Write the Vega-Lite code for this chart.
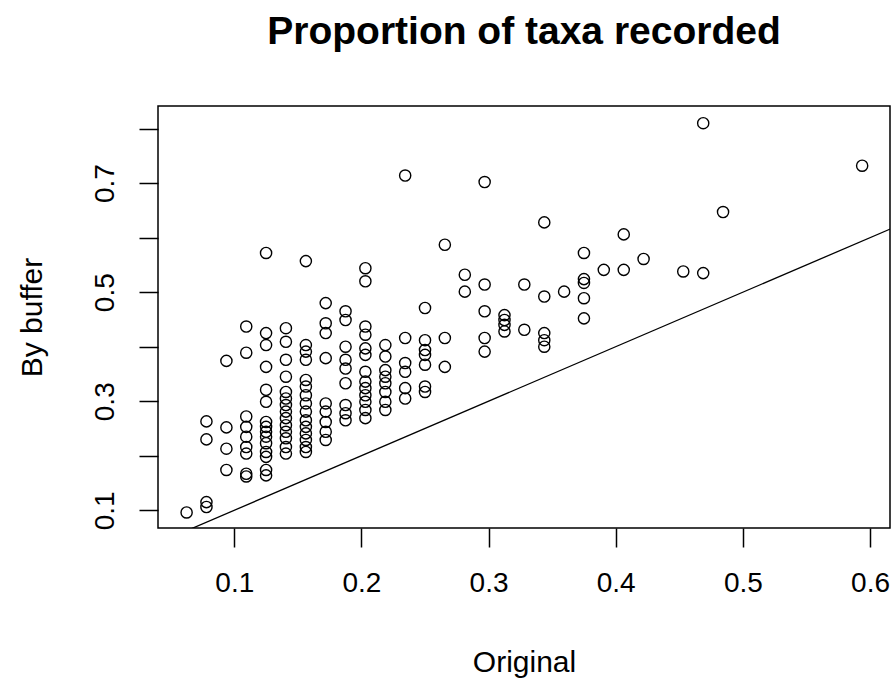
{
  "$schema": "https://vega.github.io/schema/vega-lite/v6.json",
  "width": 732,
  "height": 422,
  "autosize": {"type": "none"},
  "padding": {"left": 158, "top": 106, "right": 4, "bottom": 156},
  "background": "white",
  "config": {
    "view": {"stroke": "black", "strokeWidth": 1.5},
    "font": "Liberation Sans",
    "axis": {
      "grid": false,
      "domain": false,
      "tickColor": "black",
      "tickWidth": 1.5,
      "tickSize": 19,
      "labelColor": "black",
      "labelFont": "Liberation Sans",
      "labelFontSize": 28,
      "titleFont": "Liberation Sans",
      "titleFontSize": 30,
      "titleFontWeight": "normal",
      "titleColor": "black"
    }
  },
  "title": {
    "text": "Proportion of taxa recorded",
    "font": "Liberation Sans",
    "fontSize": 39,
    "fontWeight": "bold",
    "color": "black",
    "anchor": "middle",
    "offset": 54
  },
  "datasets": {
    "pts": [
      {"x": 0.0625, "y": 0.096},
      {"x": 0.0781, "y": 0.263}, {"x": 0.0781, "y": 0.230}, {"x": 0.0781, "y": 0.115}, {"x": 0.0781, "y": 0.106},
      {"x": 0.0938, "y": 0.374}, {"x": 0.0938, "y": 0.252}, {"x": 0.0938, "y": 0.213}, {"x": 0.0938, "y": 0.174},
      {"x": 0.1094, "y": 0.437}, {"x": 0.1094, "y": 0.389}, {"x": 0.1094, "y": 0.272}, {"x": 0.1094, "y": 0.253}, {"x": 0.1094, "y": 0.235}, {"x": 0.1094, "y": 0.216}, {"x": 0.1094, "y": 0.204}, {"x": 0.1094, "y": 0.167}, {"x": 0.1094, "y": 0.162},
      {"x": 0.125, "y": 0.572}, {"x": 0.125, "y": 0.425}, {"x": 0.125, "y": 0.403}, {"x": 0.125, "y": 0.363}, {"x": 0.125, "y": 0.321}, {"x": 0.125, "y": 0.299}, {"x": 0.125, "y": 0.262}, {"x": 0.125, "y": 0.253}, {"x": 0.125, "y": 0.244}, {"x": 0.125, "y": 0.235}, {"x": 0.125, "y": 0.223}, {"x": 0.125, "y": 0.207}, {"x": 0.125, "y": 0.198}, {"x": 0.125, "y": 0.174}, {"x": 0.125, "y": 0.164},
      {"x": 0.1406, "y": 0.434}, {"x": 0.1406, "y": 0.409}, {"x": 0.1406, "y": 0.376}, {"x": 0.1406, "y": 0.345}, {"x": 0.1406, "y": 0.317}, {"x": 0.1406, "y": 0.305}, {"x": 0.1406, "y": 0.293}, {"x": 0.1406, "y": 0.281}, {"x": 0.1406, "y": 0.269}, {"x": 0.1406, "y": 0.256}, {"x": 0.1406, "y": 0.244}, {"x": 0.1406, "y": 0.232}, {"x": 0.1406, "y": 0.216}, {"x": 0.1406, "y": 0.204},
      {"x": 0.1563, "y": 0.557}, {"x": 0.1563, "y": 0.403}, {"x": 0.1563, "y": 0.391}, {"x": 0.1563, "y": 0.376}, {"x": 0.1563, "y": 0.339}, {"x": 0.1563, "y": 0.327}, {"x": 0.1563, "y": 0.311}, {"x": 0.1563, "y": 0.296}, {"x": 0.1563, "y": 0.281}, {"x": 0.1563, "y": 0.265}, {"x": 0.1563, "y": 0.253}, {"x": 0.1563, "y": 0.241}, {"x": 0.1563, "y": 0.229}, {"x": 0.1563, "y": 0.216}, {"x": 0.1563, "y": 0.207},
      {"x": 0.1719, "y": 0.480}, {"x": 0.1719, "y": 0.443}, {"x": 0.1719, "y": 0.425}, {"x": 0.1719, "y": 0.379}, {"x": 0.1719, "y": 0.296}, {"x": 0.1719, "y": 0.281}, {"x": 0.1719, "y": 0.262}, {"x": 0.1719, "y": 0.244}, {"x": 0.1719, "y": 0.229},
      {"x": 0.1875, "y": 0.465}, {"x": 0.1875, "y": 0.449}, {"x": 0.1875, "y": 0.400}, {"x": 0.1875, "y": 0.376}, {"x": 0.1875, "y": 0.360}, {"x": 0.1875, "y": 0.333}, {"x": 0.1875, "y": 0.293}, {"x": 0.1875, "y": 0.278}, {"x": 0.1875, "y": 0.265},
      {"x": 0.2031, "y": 0.544}, {"x": 0.2031, "y": 0.520}, {"x": 0.2031, "y": 0.437}, {"x": 0.2031, "y": 0.422}, {"x": 0.2031, "y": 0.397}, {"x": 0.2031, "y": 0.385}, {"x": 0.2031, "y": 0.354}, {"x": 0.2031, "y": 0.336}, {"x": 0.2031, "y": 0.324}, {"x": 0.2031, "y": 0.311}, {"x": 0.2031, "y": 0.299}, {"x": 0.2031, "y": 0.284}, {"x": 0.2031, "y": 0.269},
      {"x": 0.2188, "y": 0.403}, {"x": 0.2188, "y": 0.382}, {"x": 0.2188, "y": 0.357}, {"x": 0.2188, "y": 0.345}, {"x": 0.2188, "y": 0.333}, {"x": 0.2188, "y": 0.317}, {"x": 0.2188, "y": 0.299}, {"x": 0.2188, "y": 0.284},
      {"x": 0.2344, "y": 0.714}, {"x": 0.2344, "y": 0.416}, {"x": 0.2344, "y": 0.370}, {"x": 0.2344, "y": 0.354}, {"x": 0.2344, "y": 0.324}, {"x": 0.2344, "y": 0.305},
      {"x": 0.25, "y": 0.471}, {"x": 0.25, "y": 0.412}, {"x": 0.25, "y": 0.394}, {"x": 0.25, "y": 0.385}, {"x": 0.25, "y": 0.367}, {"x": 0.25, "y": 0.327}, {"x": 0.25, "y": 0.317},
      {"x": 0.2656, "y": 0.587}, {"x": 0.2656, "y": 0.416}, {"x": 0.2656, "y": 0.363},
      {"x": 0.2813, "y": 0.532}, {"x": 0.2813, "y": 0.501},
      {"x": 0.2969, "y": 0.702}, {"x": 0.2969, "y": 0.514}, {"x": 0.2969, "y": 0.465}, {"x": 0.2969, "y": 0.416}, {"x": 0.2969, "y": 0.391},
      {"x": 0.3125, "y": 0.458}, {"x": 0.3125, "y": 0.449}, {"x": 0.3125, "y": 0.440}, {"x": 0.3125, "y": 0.428},
      {"x": 0.3281, "y": 0.514}, {"x": 0.3281, "y": 0.431},
      {"x": 0.3438, "y": 0.628}, {"x": 0.3438, "y": 0.492}, {"x": 0.3438, "y": 0.425}, {"x": 0.3438, "y": 0.412}, {"x": 0.3438, "y": 0.400},
      {"x": 0.3594, "y": 0.501},
      {"x": 0.375, "y": 0.572}, {"x": 0.375, "y": 0.524}, {"x": 0.375, "y": 0.517}, {"x": 0.375, "y": 0.489}, {"x": 0.375, "y": 0.452},
      {"x": 0.3906, "y": 0.541},
      {"x": 0.4063, "y": 0.606}, {"x": 0.4063, "y": 0.541},
      {"x": 0.4219, "y": 0.561},
      {"x": 0.4531, "y": 0.538},
      {"x": 0.4688, "y": 0.810}, {"x": 0.4688, "y": 0.535},
      {"x": 0.4844, "y": 0.647},
      {"x": 0.5938, "y": 0.732}
    ],
    "ref": [
      {"x": 0.03, "y": 0.03},
      {"x": 0.63, "y": 0.63}
    ]
  },
  "layer": [
    {
      "data": {"name": "ref"},
      "mark": {"type": "line", "color": "black", "strokeWidth": 1.3, "clip": true},
      "encoding": {
        "x": {"field": "x", "type": "quantitative"},
        "y": {"field": "y", "type": "quantitative"}
      }
    },
    {
      "data": {"name": "pts"},
      "mark": {"type": "point", "shape": "circle", "filled": false, "color": "black", "strokeWidth": 1.4, "size": 125, "opacity": 1, "clip": true},
      "encoding": {
        "x": {
          "field": "x",
          "type": "quantitative",
          "title": "Original",
          "scale": {"domain": [0.040, 0.6157], "nice": false, "zero": false},
          "axis": {
            "values": [0.1, 0.2, 0.3, 0.4, 0.5, 0.6],
            "format": ".1f",
            "labelPadding": 22,
            "titlePadding": 50,
            "labelFlush": false,
            "labelOverlap": false
          }
        },
        "y": {
          "field": "y",
          "type": "quantitative",
          "title": "By buffer",
          "scale": {"domain": [0.0675, 0.8415], "nice": false, "zero": false},
          "axis": {
            "values": [0.1, 0.2, 0.3, 0.4, 0.5, 0.6, 0.7, 0.8],
            "labelExpr": "round(datum.value * 10) % 2 == 1 ? format(datum.value, '.1f') : ''",
            "labelAngle": -90,
            "labelAlign": "center",
            "labelBaseline": "bottom",
            "labelPadding": 20,
            "titlePadding": 44,
            "labelFlush": false,
            "labelOverlap": false
          }
        }
      }
    }
  ]
}
